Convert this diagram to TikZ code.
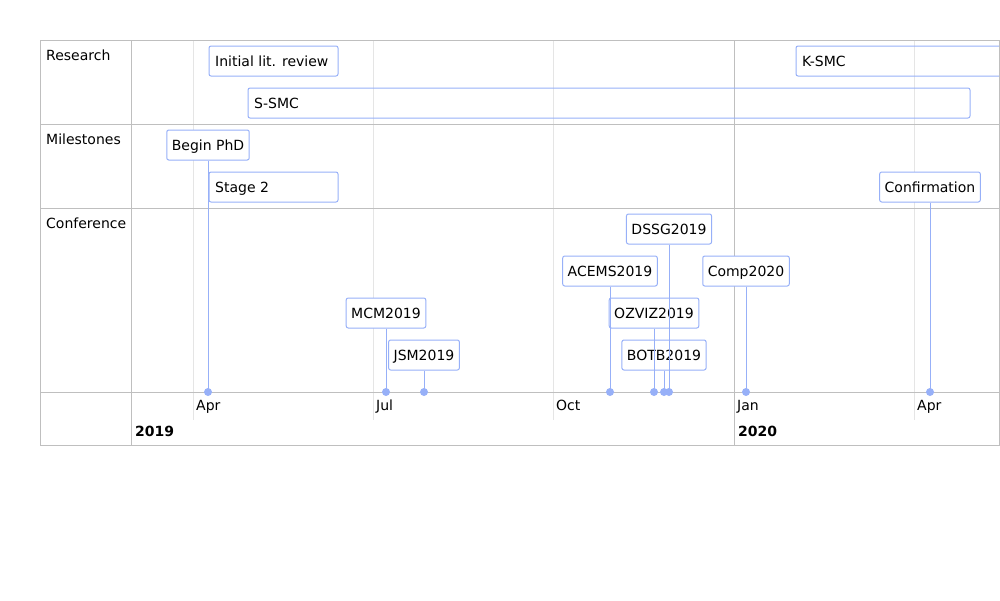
\documentclass[tikz,border=0pt]{standalone}
\usepackage{fontspec}
\setmainfont{DejaVu Sans}
\definecolor{itemblue}{HTML}{97B0F8}
\definecolor{gridmajor}{HTML}{BFBFBF}
\definecolor{gridminor}{HTML}{E5E5E5}
\tikzset{
  rangebox/.style={draw=itemblue, line width=1pt, rounded corners=2pt},
  pointbox/.style={draw=itemblue, fill=white, line width=1pt, rounded corners=2pt,
    minimum height=30pt, inner xsep=5pt, text height=10pt, text depth=0pt},
  itemtext/.style={anchor=west, inner xsep=6pt, inner ysep=0pt, text height=10pt, text depth=0pt},
  plainlabel/.style={anchor=west, inner sep=0pt, text height=10pt, text depth=0pt},
  stem/.style={draw=itemblue, line width=1pt},
  dotmark/.style={fill=itemblue},
}

\begin{document}
\begin{tikzpicture}[x=1pt, y=-1pt, font=\fontsize{14}{16}\selectfont]
  \useasboundingbox (0,0) rectangle (1000,600);

  % grid
  \foreach \gx in {193,373,553,914}
    \draw[gridminor, line width=1pt] (\gx,40) -- (\gx,420);
  \draw[gridmajor, line width=1pt] (734,40) -- (734,445);
  \draw[gridmajor, line width=1pt] (131,40) -- (131,445);
  \foreach \gy in {124,208,392}
    \draw[gridmajor, line width=1pt] (40,\gy) -- (999,\gy);
  \draw[gridmajor, line width=1pt] (40,40) rectangle (999,445);

  % group labels
  \node[plainlabel] (research) at (46,55) {Research};
  \node[plainlabel] (milestones) at (46,139) {Milestones};
  \node[plainlabel] (conference) at (46,223) {Conference};

  % axis
  \node[plainlabel] (apr19) at (196,405) {Apr};
  \node[plainlabel] (jul19) at (376,405) {Jul};
  \node[plainlabel] (oct19) at (556,405) {Oct};
  \node[plainlabel] (jan20) at (737,405) {Jan};
  \node[plainlabel] (apr20) at (917,405) {Apr};
  \node[plainlabel, font=\fontsize{14}{16}\selectfont\bfseries] (y2019) at (135,431) {2019};
  \node[plainlabel, font=\fontsize{14}{16}\selectfont\bfseries] (y2020) at (738,431) {2020};

  % range items
  \draw[rangebox] (209,46) rectangle (338,76);
  \node[itemtext] (litreview) at (209,61) {Initial lit. review};
  \begin{scope}
    \clip (40,40) rectangle (999,445);
    \draw[rangebox] (796,46) rectangle (1010,76);
  \end{scope}
  \node[itemtext] (ksmc) at (796,61) {K-SMC};
  \draw[rangebox] (248,88) rectangle (970,118);
  \node[itemtext] (ssmc) at (248,103) {S-SMC};
  \draw[rangebox] (209,172) rectangle (338,202);
  \node[itemtext] (stage) at (209,187) {Stage 2};

  % point items
  \node[pointbox] (phd) at (208,145) {Begin PhD};
  \node[pointbox] (confirm) at (930,187) {Confirmation};
  \node[pointbox] (dssg) at (669,229) {DSSG2019};
  \node[pointbox] (acems) at (610,271) {ACEMS2019};
  \node[pointbox] (comp) at (746,271) {Comp2020};
  \node[pointbox] (mcm) at (386,313) {MCM2019};
  \node[pointbox] (ozviz) at (654,313) {OZVIZ2019};
  \node[pointbox] (jsm) at (424,355) {JSM2019};
  \node[pointbox] (botb) at (664,355) {BOTB2019};

  \foreach \item in {phd,confirm,dssg,acems,comp,mcm,ozviz,jsm,botb} {
    \coordinate (\item-t) at (\item.south |- 0,392);
    \draw[stem] (\item.south) -- (\item-t);
    \fill[dotmark] (\item-t) circle (4pt);
  }
\end{tikzpicture}
\end{document}
